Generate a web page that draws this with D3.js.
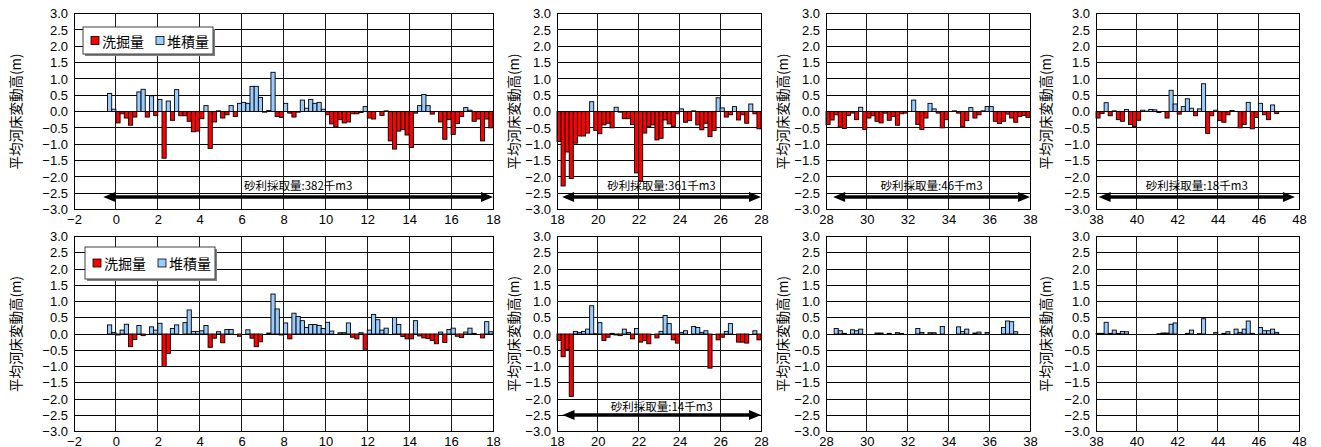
<!DOCTYPE html>
<html>
<head>
<meta charset="utf-8">
<script src="https://cdn.jsdelivr.net/npm/d3@7"></script>
<style>
body{margin:0;background:#ffffff;}
svg{display:block;}
</style>
</head>
<body>
<div id="chart"></div>
<script>
var sectionLength = 0.2; //each bar covers one 200m section, drawn from its start km

//section start km for each column of panels
var kmA = [-0.4,-0.2,0,0.2,0.4,0.6,0.8,1,1.2,1.4,
	1.6,1.8,2,2.2,2.4,2.6,2.8,3,3.2,3.4,
	3.6,3.8,4,4.2,4.4,4.6,4.8,5,5.2,5.4,
	5.6,5.8,6,6.2,6.4,6.6,6.8,7,7.2,7.4,
	7.6,7.8,8,8.2,8.4,8.6,8.8,9,9.2,9.4,
	9.6,9.8,10,10.2,10.4,10.6,10.8,11,11.2,11.4,
	11.6,11.8,12,12.2,12.4,12.6,12.8,13,13.2,13.4,
	13.6,13.8,14,14.2,14.4,14.6,14.8,15,15.2,15.4,
	15.6,15.8,16,16.2,16.4,16.6,16.8,17,17.2,17.4,
	17.6,17.8];
var kmB = [18,18.2,18.4,18.6,18.8,19,19.2,19.4,19.6,19.8,
	20,20.2,20.4,20.6,20.8,21,21.2,21.4,21.6,21.8,
	22,22.2,22.4,22.6,22.8,23,23.2,23.4,23.6,23.8,
	24,24.2,24.4,24.6,24.8,25,25.2,25.4,25.6,25.8,
	26,26.2,26.4,26.6,26.8,27,27.2,27.4,27.6,27.8];
var kmC = [28,28.2,28.4,28.6,28.8,29,29.2,29.4,29.6,29.8,
	30,30.2,30.4,30.6,30.8,31,31.2,31.4,31.6,31.8,
	32,32.2,32.4,32.6,32.8,33,33.2,33.4,33.6,33.8,
	34,34.2,34.4,34.6,34.8,35,35.2,35.4,35.6,35.8,
	36,36.2,36.4,36.6,36.8,37,37.2,37.4,37.6,37.8];
var kmD = [38,38.2,38.4,38.6,38.8,39,39.2,39.4,39.6,39.8,
	40,40.2,40.4,40.6,40.8,41,41.2,41.4,41.6,41.8,
	42,42.2,42.4,42.6,42.8,43,43.2,43.4,43.6,43.8,
	44,44.2,44.4,44.6,44.8,45,45.2,45.4,45.6,45.8,
	46,46.2,46.4,46.6,46.8];

//mean bed change (m), upper row
var upperA = [0.55,0.07,-0.35,-0.07,-0.20,-0.42,-0.17,0.60,0.68,-0.17,
	0.48,-0.12,0.37,-1.43,0.32,-0.27,0.67,-0.13,-0.13,-0.30,
	-0.62,-0.60,-0.22,0.18,-1.13,-0.32,0.02,-0.20,-0.10,0.18,
	-0.15,0.25,0.28,0.25,0.77,0.77,0.43,-0.02,0.03,1.20,
	-0.15,-0.18,0.25,-0.05,-0.17,-0.02,0.35,0.10,0.37,0.25,
	0.28,0.07,-0.10,-0.38,-0.47,-0.25,-0.35,-0.32,-0.07,-0.07,
	-0.03,0.15,-0.20,-0.23,0,-0.12,0.02,-0.90,-1.15,-0.60,
	-0.55,-0.72,-1.10,-0.05,0.18,0.52,0.18,-0.08,0,-0.32,
	-0.85,-0.25,-0.70,-0.37,-0.15,0.12,0.04,-0.30,-0.23,-0.90,
	-0.23,-0.50];
var upperB = [-0.92,-2.28,-1.24,-2.05,-0.97,-0.75,-0.75,-0.66,0.30,-0.58,
	-0.68,-0.41,-0.36,-0.50,0.13,-0.02,-0.22,-0.22,-0.40,-1.88,
	-2.14,-0.66,-0.46,-0.41,-0.87,-0.82,-0.26,-0.38,-0.46,-0.07,
	0.08,-0.33,-0.28,0.02,-0.41,-0.56,-0.36,-0.77,-0.58,0.42,
	0.11,-0.17,-0.10,0.15,-0.26,-0.10,-0.36,0.23,-0.07,-0.53];
var upperC = [-0.40,-0.26,-0.10,-0.48,-0.52,-0.12,-0.05,-0.25,0.13,-0.55,
	-0.20,-0.13,-0.30,-0.35,-0.05,-0.27,-0.15,-0.42,-0.07,-0.05,
	0,0.35,-0.40,-0.55,-0.20,0.25,0.08,-0.05,-0.50,-0.25,
	0,0.02,-0.05,-0.47,-0.28,0.12,-0.20,-0.10,0.02,0.15,
	0.15,-0.30,-0.37,-0.30,-0.08,-0.20,-0.33,-0.15,-0.12,-0.18];
var upperD = [-0.20,-0.06,0.27,-0.13,0.02,-0.25,-0.30,0.06,-0.40,-0.46,
	-0.27,0.04,0.01,0.06,0.05,-0.03,0,-0.20,0.65,0.23,
	-0.08,0.15,0.39,0.10,-0.13,0.08,0.85,-0.67,-0.13,0.04,
	-0.28,-0.33,-0.10,0.03,0,-0.50,-0.40,0.28,-0.53,-0.18,
	0.25,-0.10,-0.25,0.20,-0.06];

//mean bed change (m), lower row
var lowerA = [0.28,0.05,-0.03,0.12,0.30,-0.39,-0.17,0.26,-0.05,0,
	0.22,0.12,0.33,-1.00,-0.60,0.17,0.28,0,0.35,0.74,
	0.08,0.08,0.10,0.26,-0.41,-0.13,0.07,-0.27,0.14,0.14,
	0,-0.07,0,0.13,-0.13,-0.39,-0.24,0,0.03,1.23,
	0.77,-0.03,0.34,-0.15,0.64,0.54,0.41,0.20,0.29,0.29,
	0.26,0.17,0.36,0.09,0,0.04,0.04,0.34,-0.10,-0.15,
	0.04,-0.47,0.12,0.60,0.44,0.12,0.18,0,0.51,0.29,
	-0.08,-0.15,-0.15,0.41,-0.06,-0.12,-0.14,-0.20,-0.30,0.06,
	-0.26,0.14,0.18,-0.07,-0.11,0.06,0.18,0.02,0,-0.12,
	0.38,0.07];
var lowerB = [-0.20,-0.70,-0.48,-1.92,0.08,0.05,0.08,0.15,0.87,0.01,
	0.35,-0.20,-0.10,0.02,-0.03,-0.05,0.15,0.05,-0.15,0.17,
	-0.25,-0.20,-0.30,0,-0.12,0.08,0.57,0.32,-0.18,-0.28,
	0.05,0.10,0,0.23,0.20,0.05,0.10,-1.05,0,-0.18,
	-0.10,0.08,0.32,0,-0.25,-0.25,-0.28,0,0.10,-0.18];
var lowerC = [0,0,0.17,0.10,0.02,0,0.13,0.10,0.15,0,
	0,0,0.03,0.03,0,0.02,0,0.04,0.02,0,
	0,0,0.17,0.05,0,0.04,0.04,0,0.23,0,
	0,0,0.22,0.08,0.15,0,0.03,0.06,0,0.05,
	0,0,0,0.20,0.40,0.38,0.07,0,0,0];
var lowerD = [0.02,0.02,0.36,0.02,0.12,0.02,0.08,0.07,0,0,
	0,0,0,0,0,0.01,0.03,0.03,0.30,0.34,
	0,0,0.02,0.12,0,0.01,0.47,0,0,0.05,
	0,0.02,0.07,0,0.15,0.05,0.15,0.40,0.02,0,
	0.20,0.10,0.10,0.15,0.05];

//tick values
var yTickValues = [-3,-2.5,-2,-1.5,-1,-0.5,0,0.5,1,1.5,2,2.5,3];
var xTicksA = [-2,0,2,4,6,8,10,12,14,16,18];
var xTicksB = [18,20,22,24,26,28];
var xTicksC = [28,30,32,34,36,38];
var xTicksD = [38,40,42,44,46,48];

//gravel extraction: volume (thousand m3) and km span of the arrow
var gravelVolumes = [382,361,46,18,14];
var gravelFrom = [-0.6,18.25,28.35,38.13,18.27];
var gravelTo = [18,28,38,47.8,28];

var legendNames = ["洗掘量","堆積量"];
var yTitle = "平均河床変動高(m)";

var chart = {};
chart.width = 1321;
chart.height = 447;
chart.cols = {scour:"#ff0000", deposit:"#99ccff"};
chart.numFont = "'Liberation Sans', Arial, sans-serif";
chart.jpFont = "'Noto Sans CJK JP', 'Noto Sans', sans-serif";

//rows: pixel extent of plot areas, arrow level and legend box
chart.rows = [
	{top:13.5, bottom:209.5, arrowY:-2.62, labelY:-2.25, legend:{x:83, y:27, w:130, h:27}},
	{top:236.5, bottom:431.5, arrowY:-2.49, labelY:-2.23, legend:{x:85, y:247, w:130, h:32}}
];

chart.panels = [
	{row:0, km:kmA, vals:upperA, domain:[-2,18], ticks:xTicksA, x0:74, x1:493, titleX:15, legend:true, gravel:0},
	{row:0, km:kmB, vals:upperB, domain:[18,28], ticks:xTicksB, x0:557, x1:761, titleX:513, legend:false, gravel:1},
	{row:0, km:kmC, vals:upperC, domain:[28,38], ticks:xTicksC, x0:826, x1:1030, titleX:782, legend:false, gravel:2},
	{row:0, km:kmD, vals:upperD, domain:[38,48], ticks:xTicksD, x0:1096, x1:1299, titleX:1045, legend:false, gravel:3},
	{row:1, km:kmA, vals:lowerA, domain:[-2,18], ticks:xTicksA, x0:74, x1:493, titleX:15, legend:true, gravel:-1},
	{row:1, km:kmB, vals:lowerB, domain:[18,28], ticks:xTicksB, x0:557, x1:761, titleX:513, legend:false, gravel:4},
	{row:1, km:kmC, vals:lowerC, domain:[28,38], ticks:xTicksC, x0:826, x1:1030, titleX:782, legend:false, gravel:-1},
	{row:1, km:kmD, vals:lowerD, domain:[38,48], ticks:xTicksD, x0:1096, x1:1299, titleX:1045, legend:false, gravel:-1}
];

chart.svg = d3.select("#chart").append("svg")
	.attr("width", chart.width).attr("height", chart.height)
	.attr("viewBox", "0 0 " + chart.width + " " + chart.height);

chart.drawPanel = function(p){
	var row = chart.rows[p.row];
	var x = d3.scaleLinear().domain(p.domain).range([p.x0, p.x1]);
	var y = d3.scaleLinear().domain([-3,3]).range([row.bottom, row.top]);
	var g = chart.svg.append("g");

	g.append("rect").attr("x", p.x0).attr("y", row.top)
		.attr("width", p.x1 - p.x0).attr("height", row.bottom - row.top).attr("fill", "#ffffff");

	//grid -- horizontal every 0.5m, vertical every 2km
	g.selectAll("line.hgrid").data(yTickValues).enter().append("line").classed("hgrid", true)
		.attr("x1", p.x0).attr("x2", p.x1)
		.attr("y1", function(d){return y(d)}).attr("y2", function(d){return y(d)})
		.attr("stroke", "#000000").attr("stroke-width", 1).attr("shape-rendering", "crispEdges");
	g.selectAll("line.vgrid").data(p.ticks).enter().append("line").classed("vgrid", true)
		.attr("x1", function(d){return x(d)}).attr("x2", function(d){return x(d)})
		.attr("y1", row.top).attr("y2", row.bottom)
		.attr("stroke", "#1a1a1a").attr("stroke-width", 1).attr("shape-rendering", "crispEdges");

	//bars -- zero sections are not drawn
	var data = p.vals.map(function(v,i){return {km:p.km[i], v:v}}).filter(function(d){return d.v !== 0});
	g.selectAll("rect.bar").data(data).enter().append("rect").classed("bar", true)
		.attr("x", function(d){return x(d.km)})
		.attr("width", function(d){return x(d.km + sectionLength) - x(d.km)})
		.attr("y", function(d){return y(Math.max(0, d.v))})
		.attr("height", function(d){return Math.abs(y(d.v) - y(0))})
		.attr("fill", function(d){return d.v < 0 ? chart.cols.scour : chart.cols.deposit})
		.attr("stroke", "#000000").attr("stroke-width", 0.9);

	//plot border
	g.append("rect").attr("x", p.x0).attr("y", row.top)
		.attr("width", p.x1 - p.x0).attr("height", row.bottom - row.top)
		.attr("fill", "none").attr("stroke", "#000000").attr("stroke-width", 1).attr("shape-rendering", "crispEdges");

	//axes -- labels only, the grid does the rest
	var ya = g.append("g").attr("transform", "translate(" + p.x0 + ",0)")
		.call(d3.axisLeft(y).tickValues(yTickValues).tickSize(0).tickPadding(6).tickFormat(d3.format(".1f")));
	var xa = g.append("g").attr("transform", "translate(0," + row.bottom + ")")
		.call(d3.axisBottom(x).tickValues(p.ticks).tickSize(0).tickPadding(5).tickFormat(d3.format("d")));
	[ya, xa].forEach(function(a){
		a.select(".domain").remove();
		a.attr("font-family", chart.numFont).attr("font-size", 13);
		a.selectAll("text").attr("fill", "#000000");
	});

	g.append("text")
		.attr("transform", "translate(" + p.titleX + "," + ((row.top + row.bottom) / 2) + ") rotate(-90)")
		.attr("text-anchor", "middle").attr("dominant-baseline", "central")
		.attr("font-family", chart.jpFont).attr("font-size", 13.5).attr("fill", "#000000")
		.text(yTitle);

	if(p.gravel >= 0){
		chart.drawGravel(g, x, y, row, p.gravel);
	}
	if(p.legend){
		chart.drawLegend(g, row.legend);
	}
}

//double headed arrow with the extracted volume above it
chart.drawGravel = function(g, x, y, row, i){
	var ay = y(row.arrowY), xa = x(gravelFrom[i]), xb = x(gravelTo[i]);
	var hl = 12, hw = 5;
	g.append("line").attr("x1", xa + hl - 1).attr("x2", xb - hl + 1).attr("y1", ay).attr("y2", ay)
		.attr("stroke", "#000000").attr("stroke-width", 3.5);
	g.append("path")
		.attr("d", "M" + xa + "," + ay + "L" + (xa + hl) + "," + (ay - hw) + "L" + (xa + hl) + "," + (ay + hw) + "Z"
			+ "M" + xb + "," + ay + "L" + (xb - hl) + "," + (ay - hw) + "L" + (xb - hl) + "," + (ay + hw) + "Z")
		.attr("fill", "#000000");
	g.append("text")
		.attr("x", (xa + xb) / 2).attr("y", y(row.labelY))
		.attr("text-anchor", "middle").attr("dominant-baseline", "central")
		.attr("font-family", chart.jpFont).attr("font-size", 11.5).attr("fill", "#000000")
		.text("砂利採取量:" + gravelVolumes[i] + "千m3");
}

chart.drawLegend = function(g, L){
	g.append("rect").attr("x", L.x + 2).attr("y", L.y + 2).attr("width", L.w).attr("height", L.h).attr("fill", "#7f7f7f");
	g.append("rect").attr("x", L.x).attr("y", L.y).attr("width", L.w).attr("height", L.h)
		.attr("fill", "#ffffff").attr("stroke", "#404040").attr("stroke-width", 1);
	var cy = L.y + L.h / 2;
	var items = [{name:legendNames[0], col:chart.cols.scour, dx:8}, {name:legendNames[1], col:chart.cols.deposit, dx:73}];
	items.forEach(function(it){
		g.append("rect").attr("x", L.x + it.dx).attr("y", cy - 4).attr("width", 8).attr("height", 8)
			.attr("fill", it.col).attr("stroke", "#000000").attr("stroke-width", 0.8);
		g.append("text").attr("x", L.x + it.dx + 11).attr("y", cy)
			.attr("dominant-baseline", "central")
			.attr("font-family", chart.jpFont).attr("font-size", 14).attr("fill", "#000000")
			.text(it.name);
	});
}

chart.panels.forEach(chart.drawPanel);
</script>
</body>
</html>
